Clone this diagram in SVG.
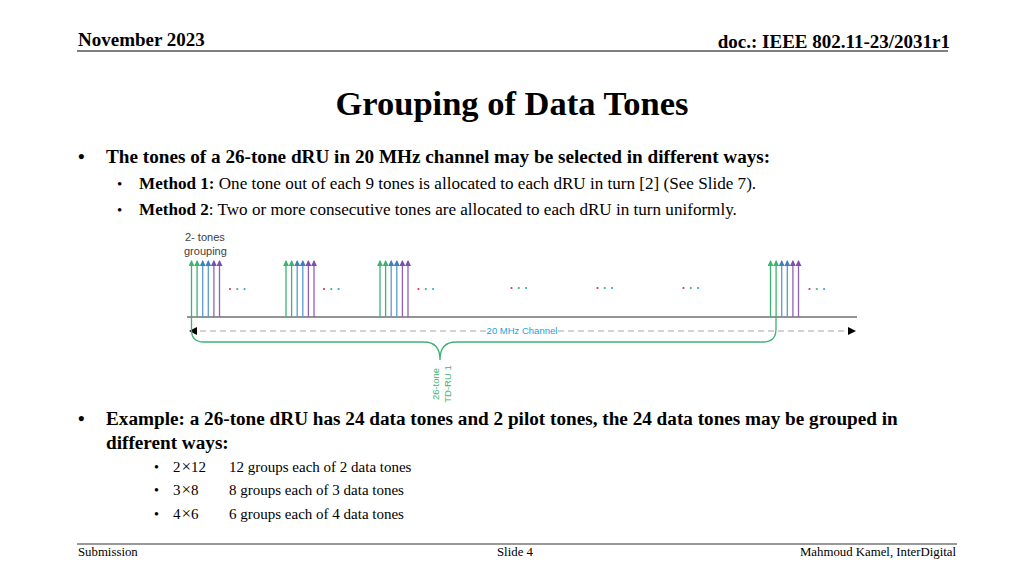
<svg xmlns="http://www.w3.org/2000/svg" xmlns:xlink="http://www.w3.org/1999/xlink" width="1024" height="576" viewBox="0 0 1024 576">
<style>
.serif{font-family:"Liberation Serif","Times New Roman",serif;fill:#000}
.b{font-weight:bold}
.sans{font-family:"Liberation Sans",Arial,sans-serif}
.g{stroke:#3cb371;stroke-width:1.3;fill:none}
.bl{stroke:#5b9bd5;stroke-width:1.3;fill:none}
.p{stroke:#8e62b8;stroke-width:1.3;fill:none}
</style>
<defs>
<marker id="mg" viewBox="0 0 6 6" refX="5" refY="3" markerWidth="6" markerHeight="6" markerUnits="userSpaceOnUse" orient="auto"><path d="M0,0 L6,3 L0,6 Z" fill="#3cb371"/></marker>
<marker id="mb" viewBox="0 0 6 6" refX="5" refY="3" markerWidth="6" markerHeight="6" markerUnits="userSpaceOnUse" orient="auto"><path d="M0,0 L6,3 L0,6 Z" fill="#3f7fc0"/></marker>
<marker id="mp" viewBox="0 0 6 6" refX="5" refY="3" markerWidth="6" markerHeight="6" markerUnits="userSpaceOnUse" orient="auto"><path d="M0,0 L6,3 L0,6 Z" fill="#7a4fb0"/></marker>
<marker id="mk" viewBox="0 0 8 8" refX="7" refY="4" markerWidth="8" markerHeight="8" markerUnits="userSpaceOnUse" orient="auto"><path d="M0,0 L8,4 L0,8 Z" fill="#000"/></marker>
<g id="tones">
<line class="g" x1="0" y1="317" x2="0" y2="261" marker-end="url(#mg)"/>
<line class="g" x1="5.6" y1="317" x2="5.6" y2="261" marker-end="url(#mg)"/>
<line class="bl" x1="11.2" y1="317" x2="11.2" y2="261" marker-end="url(#mb)"/>
<line class="bl" x1="16.8" y1="317" x2="16.8" y2="261" marker-end="url(#mb)"/>
<line class="p" x1="22.4" y1="317" x2="22.4" y2="261" marker-end="url(#mp)"/>
<line class="p" x1="28" y1="317" x2="28" y2="261" marker-end="url(#mp)"/>
</g>
<g id="dots">
<circle cx="0" cy="0" r="1.1" fill="#e03050"/>
<circle cx="7.3" cy="0" r="1.1" fill="#3cb371"/>
<circle cx="14.6" cy="0" r="1.1" fill="#2aa9e0"/>
</g>
</defs>

<g id="header">
<text class="serif b" x="78" y="46" font-size="19">November 2023</text>
<text class="serif b" x="950" y="48" font-size="19" text-anchor="end">doc.: IEEE 802.11-23/2031r1</text>
<line x1="77" y1="51" x2="948" y2="51" stroke="#555" stroke-width="1.5"/>
</g>

<g id="title">
<text class="serif b" x="512" y="115" font-size="34.5" text-anchor="middle">Grouping of Data Tones</text>
</g>

<g id="body">
<text class="serif b" x="78" y="163" font-size="19">•</text>
<text class="serif b" x="106" y="163" font-size="19.2">The tones of a 26-tone dRU in 20 MHz channel may be selected in different ways:</text>
<text class="serif" x="117" y="189" font-size="15">•</text>
<text class="serif" x="139" y="189" font-size="17.1"><tspan class="b">Method 1:</tspan> One tone out of each 9 tones is allocated to each dRU in turn [2] (See Slide 7).</text>
<text class="serif" x="117" y="215" font-size="15">•</text>
<text class="serif" x="139" y="215" font-size="17.1"><tspan class="b">Method 2</tspan>: Two or more consecutive tones are allocated to each dRU in turn uniformly.</text>

<text class="serif b" x="78" y="425" font-size="19">•</text>
<text class="serif b" x="106" y="425" font-size="19.2">Example: a 26-tone dRU has 24 data tones and 2 pilot tones, the 24 data tones may be grouped in</text>
<text class="serif b" x="106" y="449" font-size="19.2">different ways:</text>

<text class="serif" x="154" y="472" font-size="14">•</text>
<text class="serif" x="173" y="472" font-size="15">2<tspan font-size="17" dx="1">×</tspan>12</text>
<text class="serif" x="229" y="472" font-size="15">12 groups each of 2 data tones</text>
<text class="serif" x="154" y="495" font-size="14">•</text>
<text class="serif" x="173" y="495" font-size="15">3<tspan font-size="17" dx="1">×</tspan>8</text>
<text class="serif" x="229" y="495" font-size="15">8 groups each of 3 data tones</text>
<text class="serif" x="154" y="519" font-size="14">•</text>
<text class="serif" x="173" y="519" font-size="15">4<tspan font-size="17" dx="1">×</tspan>6</text>
<text class="serif" x="229" y="519" font-size="15">6 groups each of 4 data tones</text>
</g>

<g id="diagram">
<text class="sans" x="185" y="241" font-size="11" fill="#404040">2- tones</text>
<text class="sans" x="184" y="255" font-size="11" fill="#404040">grouping</text>

<line x1="187" y1="317" x2="857" y2="317" stroke="#707070" stroke-width="1.6"/>

<use xlink:href="#tones" href="#tones" x="191.5"/>
<use xlink:href="#tones" href="#tones" x="286"/>
<use xlink:href="#tones" href="#tones" x="380"/>
<use xlink:href="#tones" href="#tones" x="770.5"/>

<use xlink:href="#dots" href="#dots" x="230" y="289"/>
<use xlink:href="#dots" href="#dots" x="324" y="289"/>
<use xlink:href="#dots" href="#dots" x="418.5" y="289"/>
<use xlink:href="#dots" href="#dots" x="511.5" y="288"/>
<use xlink:href="#dots" href="#dots" x="597.5" y="288"/>
<use xlink:href="#dots" href="#dots" x="683.5" y="288"/>
<use xlink:href="#dots" href="#dots" x="809.5" y="289"/>
</g>

<g id="connectors">
<line x1="486" y1="331" x2="190" y2="331" stroke="#a6a6a6" stroke-width="1.2" stroke-dasharray="6 4" marker-end="url(#mk)"/>
<line x1="558" y1="331" x2="855" y2="331" stroke="#a6a6a6" stroke-width="1.2" stroke-dasharray="6 4" marker-end="url(#mk)"/>
<text class="sans" x="522" y="334" font-size="9.5" fill="#1ca0dc" text-anchor="middle">20 MHz Channel</text>
<path class="g" stroke-width="1.5" d="M191.5,317 L191.5,330 Q191.5,342 204,342 L424,342 C436,342 440,350 440,360 C440,350 444,342 456,342 L763,342 Q776,342 776,329 L776,317"/>
<text class="sans" font-size="9.5" fill="#3cb371" text-anchor="middle" transform="translate(439,384) rotate(-90)">26-tone</text>
<text class="sans" font-size="9.5" fill="#3cb371" text-anchor="middle" transform="translate(451,384) rotate(-90)">TD-RU 1</text>
</g>

<g id="footer">
<line x1="77" y1="544" x2="957" y2="544" stroke="#777" stroke-width="1.5"/>
<text class="serif" x="78" y="556" font-size="12.8">Submission</text>
<text class="serif" x="497" y="556" font-size="12.8">Slide 4</text>
<text class="serif" x="956" y="556" font-size="12.8" text-anchor="end">Mahmoud Kamel, InterDigital</text>
</g>
</svg>
